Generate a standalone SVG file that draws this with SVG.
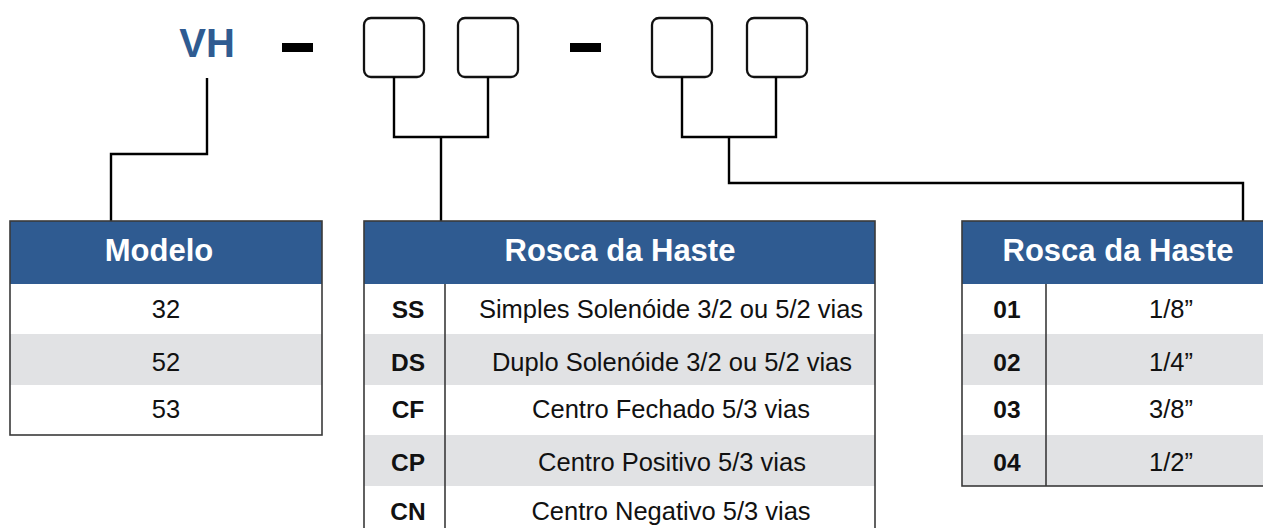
<svg xmlns="http://www.w3.org/2000/svg" width="1263" height="528" viewBox="0 0 1263 528">
<style>
.bg{fill:#ffffff}
.box{fill:#ffffff;stroke:#111111;stroke-width:2.3}
.dash{fill:#000000}
.conn{fill:none;stroke:#000000;stroke-width:2.4;stroke-linejoin:miter}
.hdr{fill:#2F5B91}
.gray{fill:#E1E2E4}
.frame{fill:none;stroke:#3a3a3a;stroke-width:1.6}
.div{stroke:#3a3a3a;stroke-width:1.6}
.ht{font-family:"Liberation Sans",Arial,sans-serif;font-weight:bold;font-size:31px;fill:#ffffff;text-anchor:middle}
.t{font-family:"Liberation Sans",Arial,sans-serif;font-size:25.5px;fill:#111111;text-anchor:middle}
.c{font-family:"Liberation Sans",Arial,sans-serif;font-weight:bold;font-size:24.5px;fill:#111111;text-anchor:middle}
.vh{font-family:"Liberation Sans",Arial,sans-serif;font-weight:bold;font-size:40px;fill:#2F5B91;text-anchor:middle}
</style>
<rect class="bg" x="0" y="0" width="1263" height="528"/>

<g id="code">
  <text class="vh" x="207" y="57">VH</text>
  <rect class="dash" x="282" y="43" width="31" height="9"/>
  <rect class="box" x="364" y="18" width="60" height="59" rx="7"/>
  <rect class="box" x="458" y="18" width="60" height="59" rx="7"/>
  <rect class="dash" x="570" y="43" width="31" height="9"/>
  <rect class="box" x="652" y="18" width="60" height="59" rx="7"/>
  <rect class="box" x="747" y="18" width="60" height="59" rx="7"/>
</g>

<g id="connectors">
  <path class="conn" d="M207 78 V154 H111 V221"/>
  <path class="conn" d="M394 77 V137 H488 V77"/>
  <path class="conn" d="M441 137 V221"/>
  <path class="conn" d="M682 77 V137 H776 V77"/>
  <path class="conn" d="M729 137 V183 H1243 V221"/>
</g>

<g id="modelo">
  <rect class="hdr" x="10" y="221" width="312" height="63"/>
  <rect class="gray" x="10" y="334" width="312" height="51"/>
  <rect class="frame" x="10" y="221" width="312" height="214"/>
  <text class="ht" x="159" y="261">Modelo</text>
  <text class="t" x="166" y="318">32</text>
  <text class="t" x="166" y="371">52</text>
  <text class="t" x="166" y="418">53</text>
</g>

<g id="acionamento">
  <rect class="hdr" x="364" y="221" width="511" height="63"/>
  <rect class="gray" x="364" y="334" width="511" height="51"/>
  <rect class="gray" x="364" y="435" width="511" height="51"/>
  <rect class="frame" x="364" y="221" width="511" height="320"/>
  <line class="div" x1="445" y1="284" x2="445" y2="528"/>
  <text class="ht" x="620" y="261">Rosca da Haste</text>
  <text class="c" x="408" y="318">SS</text>
  <text class="c" x="408" y="371">DS</text>
  <text class="c" x="408" y="418">CF</text>
  <text class="c" x="408" y="471">CP</text>
  <text class="c" x="408" y="520">CN</text>
  <text class="t" x="671" y="318">Simples Solenóide 3/2 ou 5/2 vias</text>
  <text class="t" x="672" y="371">Duplo Solenóide 3/2 ou 5/2 vias</text>
  <text class="t" x="671" y="418">Centro Fechado 5/3 vias</text>
  <text class="t" x="672" y="471">Centro Positivo 5/3 vias</text>
  <text class="t" x="671" y="520">Centro Negativo 5/3 vias</text>
</g>

<g id="rosca">
  <rect class="hdr" x="962" y="221" width="310" height="63"/>
  <rect class="gray" x="962" y="334" width="310" height="51"/>
  <rect class="gray" x="962" y="435" width="310" height="51"/>
  <rect class="frame" x="962" y="221" width="310" height="265"/>
  <line class="div" x1="1046" y1="284" x2="1046" y2="486"/>
  <text class="ht" x="1118" y="261">Rosca da Haste</text>
  <text class="c" x="1007" y="318">01</text>
  <text class="c" x="1007" y="371">02</text>
  <text class="c" x="1007" y="418">03</text>
  <text class="c" x="1007" y="471">04</text>
  <text class="t" x="1171" y="318">1/8”</text>
  <text class="t" x="1171" y="371">1/4”</text>
  <text class="t" x="1171" y="418">3/8”</text>
  <text class="t" x="1171" y="471">1/2”</text>
</g>
</svg>
